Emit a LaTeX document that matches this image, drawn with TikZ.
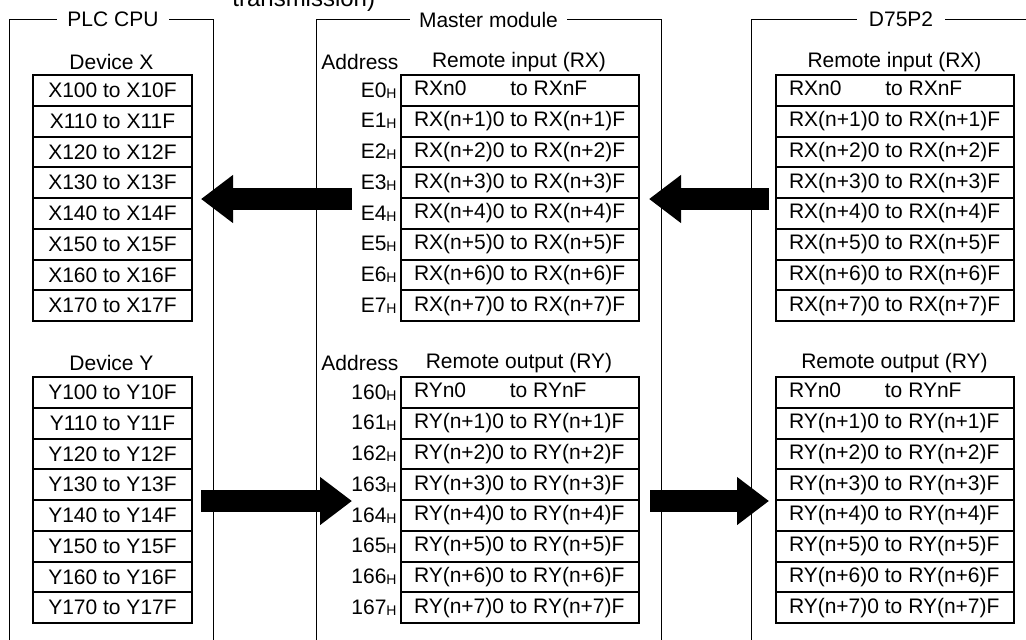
\documentclass[tikz,border=0pt]{standalone}
\usepackage{fontspec}
\setmainfont{Liberation Sans}
\usetikzlibrary{arrows.meta,positioning,calc}
\newcommand{\regfont}{\fontsize{10.5}{12}\selectfont}
\newcommand{\hx}{\raisebox{-0.5pt}{\fontsize{7}{8}\selectfont H}}
\newcommand{\regrow}[2]{\makebox[106pt][l]{\ifnum#2=0 \rlap{#1n0}\phantom{#1(n+1)0} to #1nF\else #1(n+#2)0 to #1(n+#2)F\fi}}
\tikzset{
    frame/.style={draw, line width=0.5pt},
    framelabel/.style={fill=white, inner xsep=5pt, inner ysep=1pt, font=\regfont},
    cell/.style={rectangle, draw, line width=1pt, minimum height=15.375pt, inner ysep=0pt, font=\regfont},
    devcell/.style={cell, minimum width=79.5pt, inner xsep=0pt, anchor=north west},
    regcell/.style={cell, inner xsep=6.5pt, anchor=north west},
    head/.style={font=\regfont, inner sep=0pt},
    addr/.style={font=\regfont, inner sep=0pt, anchor=east},
    bigarrow/.style={line width=11pt, -{Triangle[length=16pt, width=23pt]}},
}

\begin{document}
\begin{tikzpicture}[x=0.5pt, y=-0.5pt]
    \useasboundingbox (0,0) rectangle (1026,639);
    \node[anchor=base west, inner sep=0pt, font=\fontsize{12}{14}\selectfont] (caption) at (232,6) {transmission)};

    % module frames
    \draw[frame] (9,660) |- (213,19.5) -- (213,660);
    \draw[frame] (316,660) |- (661,19.5) -- (661,660);
    \draw[frame] (751,660) |- (1040,19.5);
    \node[framelabel] (plc) at (113,19.5) {PLC CPU};
    \node[framelabel, inner xsep=4.5pt] (master) at (488.5,19.5) {Master module};
    \node[framelabel, inner xsep=6pt] (d75) at (901,19.5) {D75P2};

    % headings
    \node[head] (devx) at (111.5,62) {Device X};
    \node[head] (devy) at (111.5,363) {Device Y};
    \node[head, anchor=west] (addrx) at (321,62) {Address};
    \node[head, anchor=west] (addry) at (321,363) {Address};
    \node[head] (mrx) at (519,62) {Remote input (RX)};
    \node[head] (mry) at (519,363) {Remote output (RY)};
    \node[head] (drx) at (894.5,62) {Remote input (RX)};
    \node[head] (dry) at (894.5,363) {Remote output (RY)};

    % device and register rows
    \foreach \i in {0,...,7} {
        \node[devcell] (xrow\i) at (32,{74+30.75*\i}) {X1\i0 to X1\i F};
        \node[devcell] (yrow\i) at (32,{376+30.75*\i}) {Y1\i0 to Y1\i F};
        \node[regcell] (rxm\i) at (400,{74+30.75*\i}) {\regrow{RX}{\i}};
        \node[regcell] (rym\i) at (400,{376+30.75*\i}) {\regrow{RY}{\i}};
        \node[regcell] (rxd\i) at (775,{74+30.75*\i}) {\regrow{RX}{\i}};
        \node[regcell] (ryd\i) at (775,{376+30.75*\i}) {\regrow{RY}{\i}};
        \node[addr] (ax\i) at ([xshift=-1.5pt]rxm\i.west) {E\i\hx};
        \node[addr] (ay\i) at ([xshift=-1.5pt]rym\i.west) {16\i\hx};
    }

    % transfer arrows
    \coordinate (mleft) at (352,0);
    \draw[bigarrow, shorten >=4pt] (mleft |- xrow3.south east) -- (xrow3.south east);
    \draw[bigarrow, shorten <=3pt, shorten >=4.5pt] (rxd3.south west) -- (rxm3.south east);
    \draw[bigarrow, shorten <=4pt] (yrow3.south east) -- (mleft |- yrow3.south east);
    \draw[bigarrow, shorten <=5pt, shorten >=3pt] (rym3.south east) -- (ryd3.south west);
\end{tikzpicture}
\end{document}
